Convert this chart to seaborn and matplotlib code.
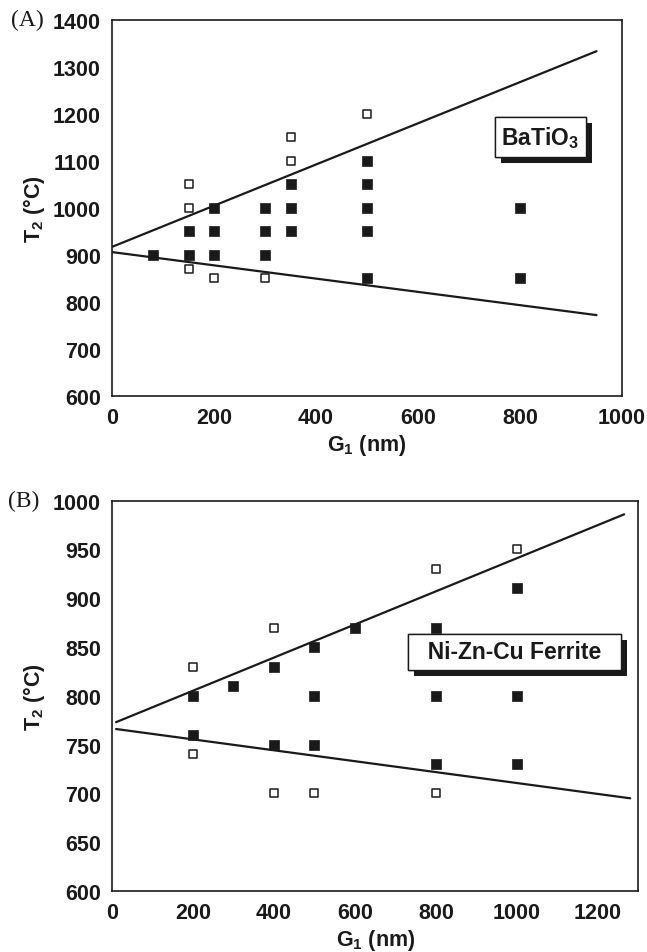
import matplotlib
matplotlib.use("Agg")
import matplotlib.pyplot as plt
import matplotlib.patheffects as pe
from matplotlib.ticker import MultipleLocator
import seaborn as sns

# ---------------- data: panel A (BaTiO3) ----------------
a_filled_x = [80, 150, 150, 200, 200, 200, 300, 300, 300, 350, 350, 350, 500, 500, 500, 500, 500, 800, 800]
a_filled_y = [900, 950, 900, 1000, 950, 900, 1000, 950, 900, 1050, 1000, 950, 1100, 1050, 1000, 950, 850, 1000, 850]
a_open_x = [150, 150, 150, 200, 300, 350, 350, 500]
a_open_y = [1050, 1000, 870, 850, 850, 1150, 1100, 1200]
a_upper_x = [0, 950]
a_upper_y = [917, 1333]
a_lower_x = [0, 950]
a_lower_y = [906, 772]

# ---------------- data: panel B (Ni-Zn-Cu Ferrite) ----------------
b_filled_x = [200, 200, 300, 400, 400, 500, 500, 500, 600, 800, 800, 800, 1000, 1000, 1000]
b_filled_y = [800, 760, 810, 830, 750, 850, 800, 750, 870, 870, 800, 730, 910, 800, 730]
b_open_x = [200, 200, 400, 400, 500, 800, 800, 1000]
b_open_y = [830, 740, 870, 700, 700, 930, 700, 950]
b_upper_x = [10, 1265]
b_upper_y = [773, 986]
b_lower_x = [10, 1280]
b_lower_y = [766, 695]

sns.set_theme(style="white")
plt.rcParams['font.family'] = ['Liberation Sans', 'DejaVu Sans']
plt.rcParams['mathtext.fontset'] = 'custom'
plt.rcParams['mathtext.rm'] = 'Liberation Sans:bold'
plt.rcParams['mathtext.bf'] = 'Liberation Sans:bold'
plt.rcParams['mathtext.it'] = 'Liberation Sans:bold'

fig = plt.figure(figsize=(6.47, 9.53), dpi=100)
axA = fig.add_axes([0.1731, 0.5834, 0.7883, 0.3949])
axB = fig.add_axes([0.1731, 0.0640, 0.8135, 0.4096])

TICK_FS = 15.5
LAB_FS = 15.5
INK = '#1a1a1a'


def panel(ax, fx, fy, ox, oy, ux, uy, lx, ly, xlim, ylim, xmaj, xmin, ymaj, ymin,
          label, lab_xy, lab_pad, tag):
    sns.lineplot(x=ux, y=uy, ax=ax, color=INK, lw=1.6, sort=False)
    sns.lineplot(x=lx, y=ly, ax=ax, color=INK, lw=1.6, sort=False)
    sns.scatterplot(x=fx, y=fy, ax=ax, marker='s', s=46, color=INK, edgecolor=INK, linewidth=0.5, zorder=5)
    sns.scatterplot(x=ox, y=oy, ax=ax, marker='s', s=34, facecolor='white', edgecolor=INK, linewidth=1.1, zorder=5)
    ax.set_xlim(*xlim)
    ax.set_ylim(*ylim)
    ax.xaxis.set_major_locator(MultipleLocator(xmaj))
    ax.xaxis.set_minor_locator(MultipleLocator(xmin))
    ax.yaxis.set_major_locator(MultipleLocator(ymaj))
    ax.yaxis.set_minor_locator(MultipleLocator(ymin))
    ax.tick_params(which='both', direction='in', top=False, right=False, colors=INK,
                   labelsize=TICK_FS, width=1.1)
    ax.tick_params(which='major', length=7)
    ax.tick_params(which='minor', length=4)
    ax.tick_params(axis='x', which='major', pad=8)
    ax.tick_params(axis='y', which='major', pad=8)
    for lbl in ax.get_xticklabels() + ax.get_yticklabels():
        lbl.set_fontweight('bold')
    for sp in ax.spines.values():
        sp.set_color(INK)
        sp.set_linewidth(1.2)
    ax.set_xlabel(r'G$_\mathbf{1}$ (nm)', fontsize=LAB_FS, fontweight='bold', color=INK, labelpad=3)
    ax.set_ylabel(r'T$_\mathbf{2}$ (°C)', fontsize=LAB_FS, fontweight='bold', color=INK, labelpad=4)
    t = ax.text(lab_xy[0], lab_xy[1], label, fontsize=16.5, fontweight='bold', color=INK,
                ha='center', va='center', zorder=10,
                bbox=dict(boxstyle=f'square,pad={lab_pad}', facecolor='white', edgecolor=INK, linewidth=1.0))
    t.get_bbox_patch().set_path_effects([
        pe.withSimplePatchShadow(offset=(4.3, -4.3), shadow_rgbFace=INK, alpha=1.0),
        pe.Normal()])
    ax.text(-0.198, 1.0, tag, transform=ax.transAxes, fontsize=17, family='Liberation Serif',
            color=INK, ha='left', va='center')


panel(axA, a_filled_x, a_filled_y, a_open_x, a_open_y, a_upper_x, a_upper_y, a_lower_x, a_lower_y,
      (0, 1000), (600, 1400), 200, 100, 100, 50, r'BaTiO$_\mathbf{3}$', (840, 1150), 0.3, '(A)')
panel(axB, b_filled_x, b_filled_y, b_open_x, b_open_y, b_upper_x, b_upper_y, b_lower_x, b_lower_y,
      (0, 1300), (600, 1000), 200, 100, 50, 25, '  Ni-Zn-Cu Ferrite  ', (994, 845), 0.3, '(B)')

fig.savefig('out.png', dpi=100)
